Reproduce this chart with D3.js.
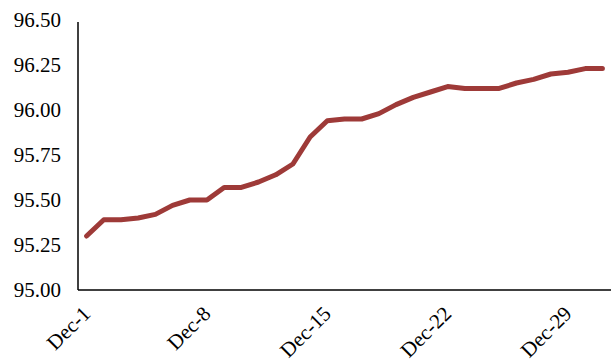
<!DOCTYPE html>
<html><head><meta charset="utf-8">
<script src="https://cdn.jsdelivr.net/npm/d3@7"></script>
<style>body{margin:0;background:#fff;} svg{display:block;}</style>
</head><body><svg id="c" width="613" height="360"></svg>
<script>
const categories = d3.range(1, 32).map(d => "Dec-" + d);
const values = [95.30,95.39,95.39,95.40,95.42,95.47,95.50,95.50,95.57,95.57,95.60,95.64,95.70,95.85,95.94,95.95,95.95,95.98,96.03,96.07,96.10,96.13,96.12,96.12,96.12,96.15,96.17,96.20,96.21,96.23,96.23];
const xTickLabels = ["Dec-1","Dec-8","Dec-15","Dec-22","Dec-29"];
const yTicks = [95.00,95.25,95.50,95.75,96.00,96.25,96.50];

(function(){
const svg = d3.select("#c");
const mLeft = 78, mRight = 611, mTop = 20, mBottom = 290;
const x = d3.scaleBand().domain(categories).range([mLeft, mRight]);
const y = d3.scaleLinear().domain([95, 96.5]).range([mBottom, mTop]);
const font = "'Liberation Serif','Times New Roman',serif";

// y axis
const ya = svg.append("g").attr("transform", `translate(${mLeft},0)`)
  .call(d3.axisLeft(y).tickValues(yTicks).tickFormat(d3.format(".2f")).tickSize(0).tickPadding(17));
ya.select(".domain").remove();
ya.selectAll("text").attr("font-family", font).attr("font-size", 21).attr("fill", "#000");
svg.append("line").attr("x1", mLeft).attr("x2", mLeft).attr("y1", y(96.5)+2).attr("y2", mBottom)
  .attr("stroke", "#000").attr("stroke-width", 1.5);

// x axis
const xa = svg.append("g").attr("transform", `translate(0,${mBottom})`)
  .call(d3.axisBottom(x).tickValues(xTickLabels).tickSize(0).tickPadding(0));
xa.select(".domain").remove();
xa.selectAll("text").attr("font-family", font).attr("font-size", 21).attr("fill", "#000")
  .attr("text-anchor", "end").attr("dy", 0)
  .attr("transform", "translate(5,25) rotate(-45)");
svg.append("line").attr("x1", mLeft).attr("x2", mRight).attr("y1", mBottom).attr("y2", mBottom)
  .attr("stroke", "#000").attr("stroke-width", 1.5);

// line
const line = d3.line().x((d, i) => x(categories[i]) + x.bandwidth()/2).y(d => y(d));
svg.append("path").datum(values).attr("d", line).attr("fill", "none")
  .attr("stroke", "#9e3a38").attr("stroke-width", 5).attr("stroke-linecap", "round").attr("stroke-linejoin", "round");
})();
</script></body></html>
